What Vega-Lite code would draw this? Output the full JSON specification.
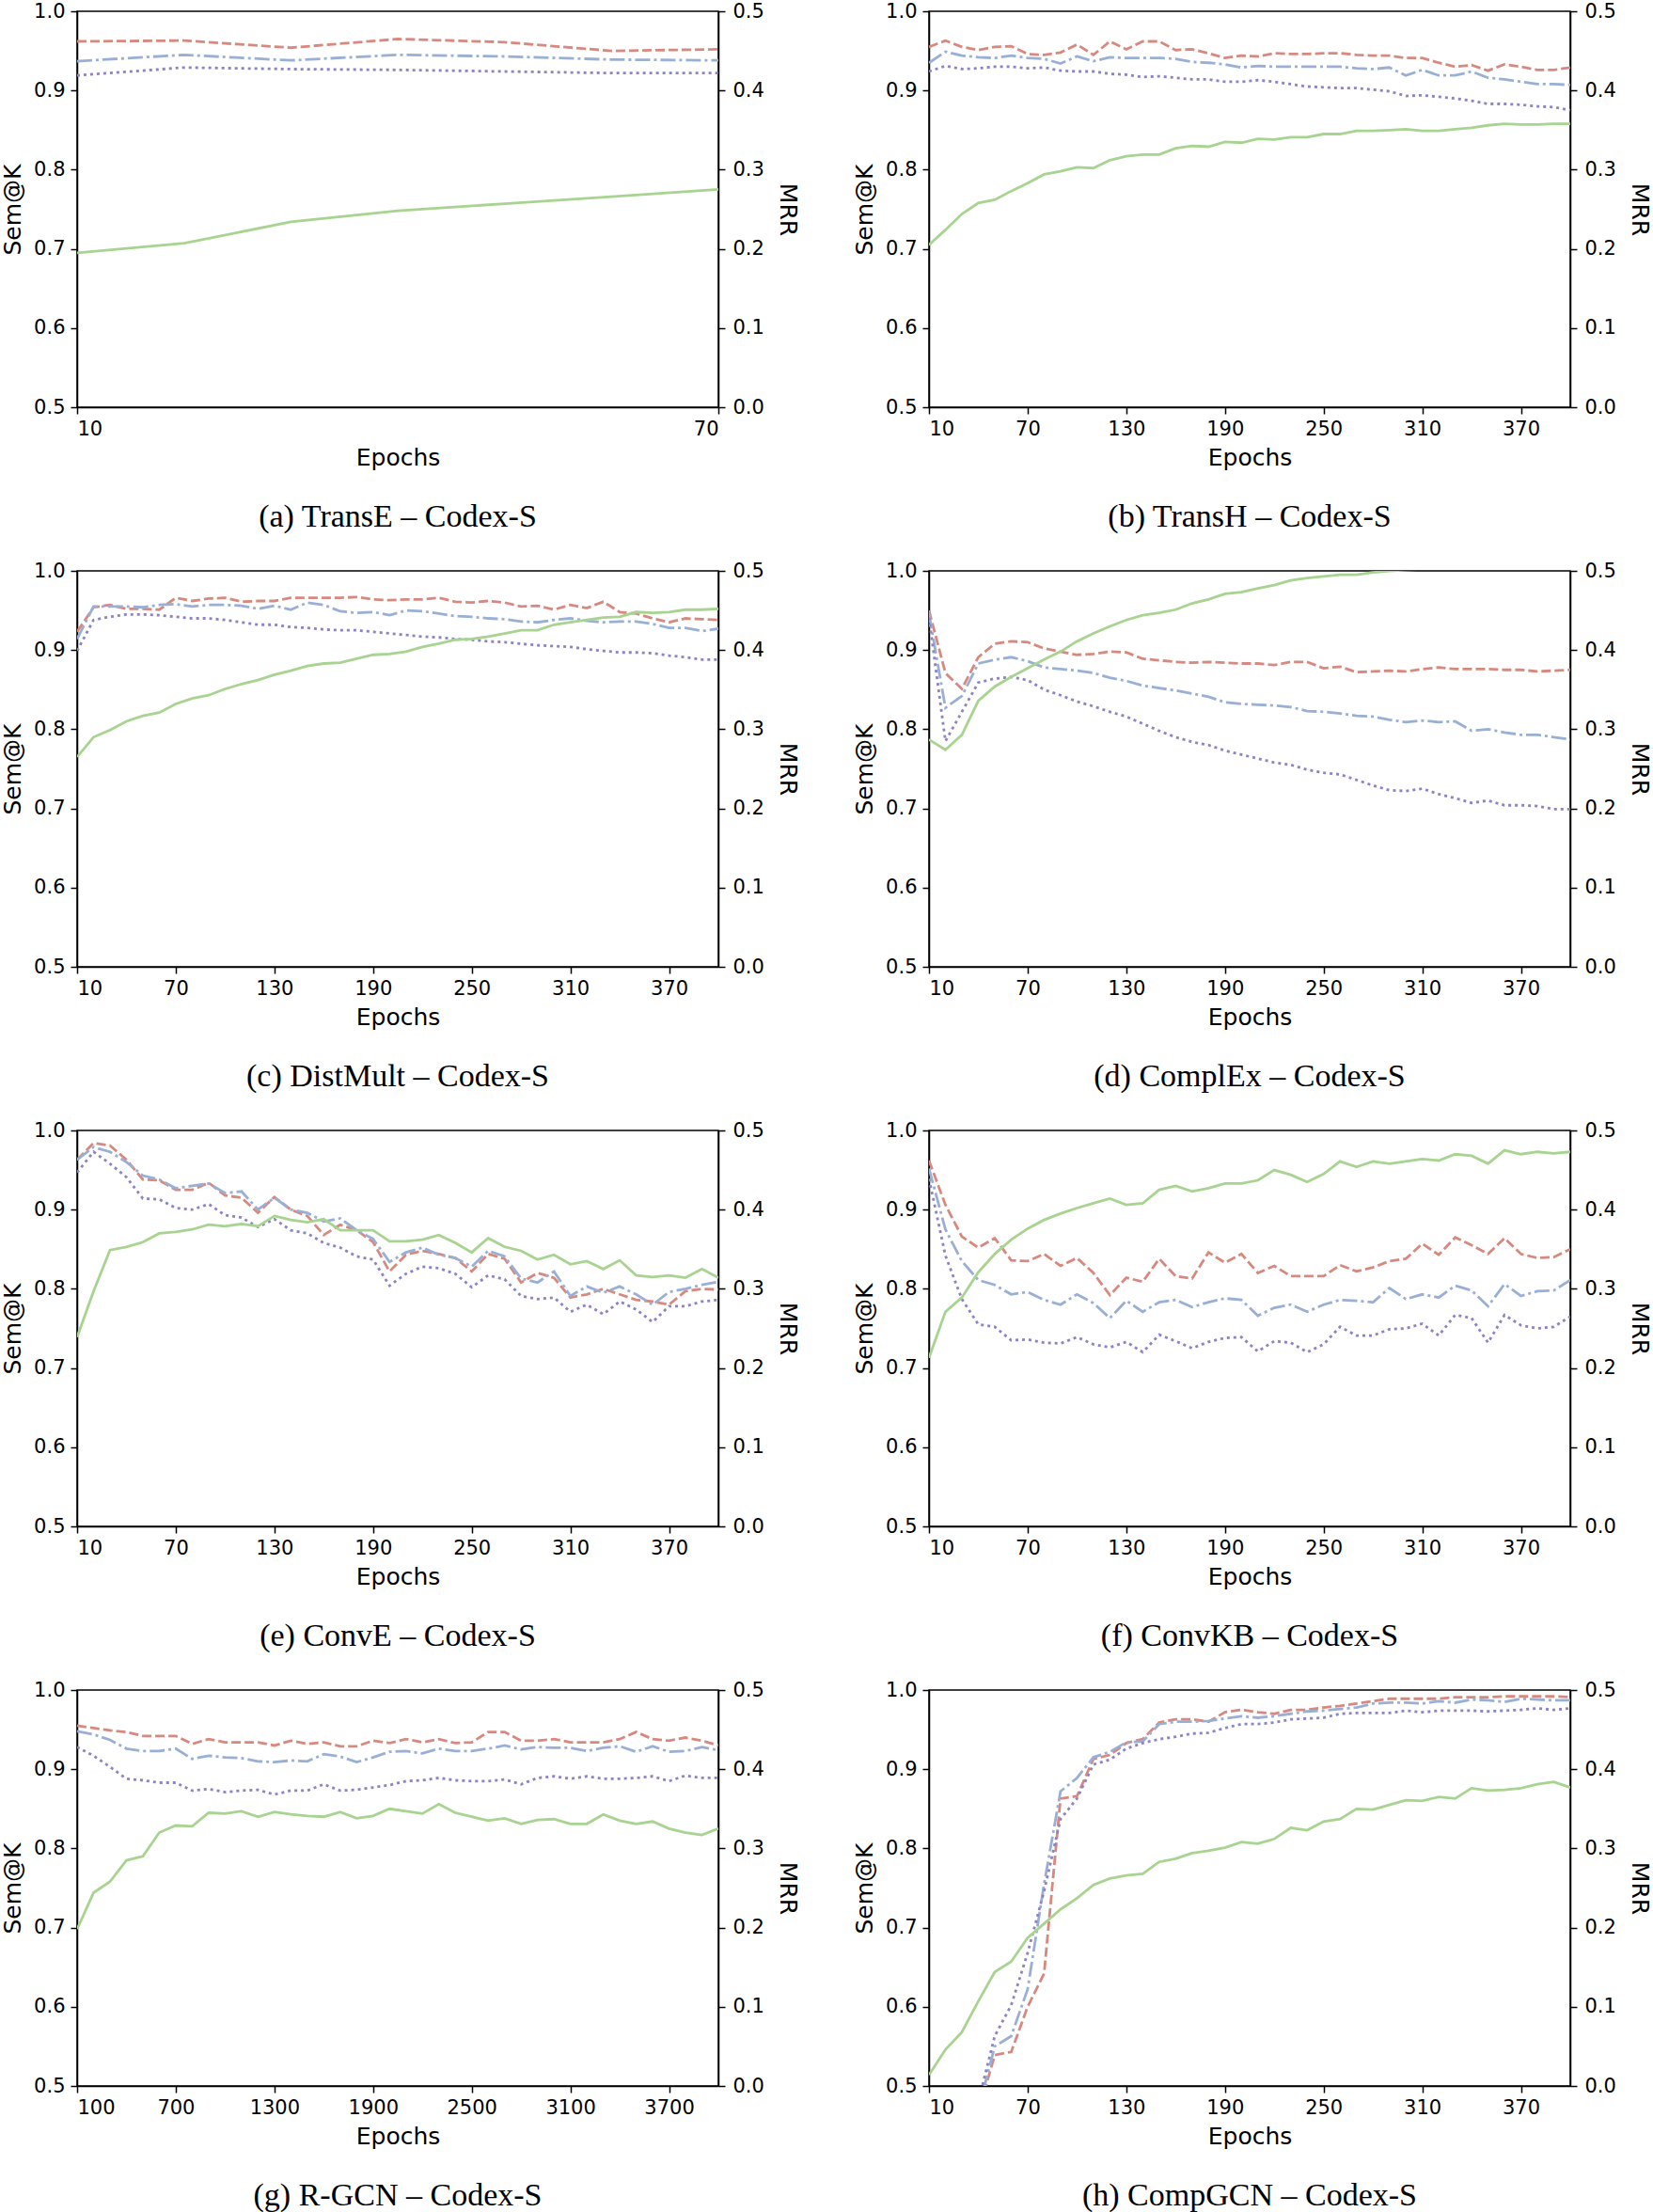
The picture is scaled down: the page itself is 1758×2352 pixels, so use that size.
{
"$schema":"https://vega.github.io/schema/vega-lite/v6.json",
"padding":{"left":0,"top":0,"right":0,"bottom":0},
"background":"white",
"config":{
 "view":{"stroke":"black","strokeWidth":1.5},
 "axis":{"labelFont":"DejaVu Sans","labelFontSize":21,"labelColor":"black","titleFont":"DejaVu Sans","titleFontSize":25,"titleFontWeight":"normal","titleColor":"black","tickColor":"black","tickSize":7,"tickWidth":1.5,"domainColor":"black","domainWidth":1.5,"grid":false,"labelPadding":8},
 "axisX":{"titlePadding":8,"format":"d","labelPadding":5},
 "axisLeft":{"titlePadding":9,"labelPadding":6},
 "axisRight":{"titlePadding":12},
 "title":{"font":"Liberation Serif","fontSize":34,"fontWeight":"normal","color":"black","orient":"bottom","offset":34,"anchor":"middle"},
 "line":{"strokeWidth":2.8}
},
"datasets":{
"a":[
{"epoch":10,"s1":0.962,"s3":0.937,"s10":0.919,"mrr":0.195},
{"epoch":20,"s1":0.963,"s3":0.945,"s10":0.929,"mrr":0.207},
{"epoch":30,"s1":0.954,"s3":0.938,"s10":0.927,"mrr":0.234},
{"epoch":40,"s1":0.965,"s3":0.945,"s10":0.926,"mrr":0.248},
{"epoch":50,"s1":0.961,"s3":0.943,"s10":0.924,"mrr":0.257},
{"epoch":60,"s1":0.950,"s3":0.939,"s10":0.922,"mrr":0.266},
{"epoch":70,"s1":0.952,"s3":0.938,"s10":0.922,"mrr":0.275}],
"b":[
{"epoch":10,"s1":0.955,"s3":0.935,"s10":0.924,"mrr":0.205},
{"epoch":20,"s1":0.963,"s3":0.949,"s10":0.931,"mrr":0.224},
{"epoch":30,"s1":0.955,"s3":0.944,"s10":0.927,"mrr":0.244},
{"epoch":40,"s1":0.951,"s3":0.942,"s10":0.928,"mrr":0.258},
{"epoch":50,"s1":0.955,"s3":0.941,"s10":0.930,"mrr":0.262},
{"epoch":60,"s1":0.956,"s3":0.944,"s10":0.930,"mrr":0.273},
{"epoch":70,"s1":0.946,"s3":0.941,"s10":0.928,"mrr":0.283},
{"epoch":80,"s1":0.945,"s3":0.940,"s10":0.929,"mrr":0.294},
{"epoch":90,"s1":0.948,"s3":0.934,"s10":0.925,"mrr":0.298},
{"epoch":100,"s1":0.958,"s3":0.943,"s10":0.924,"mrr":0.303},
{"epoch":110,"s1":0.945,"s3":0.937,"s10":0.924,"mrr":0.302},
{"epoch":120,"s1":0.962,"s3":0.942,"s10":0.921,"mrr":0.312},
{"epoch":130,"s1":0.952,"s3":0.941,"s10":0.920,"mrr":0.317},
{"epoch":140,"s1":0.962,"s3":0.941,"s10":0.917,"mrr":0.319},
{"epoch":150,"s1":0.962,"s3":0.941,"s10":0.918,"mrr":0.319},
{"epoch":160,"s1":0.951,"s3":0.940,"s10":0.916,"mrr":0.327},
{"epoch":170,"s1":0.952,"s3":0.936,"s10":0.914,"mrr":0.330},
{"epoch":180,"s1":0.947,"s3":0.935,"s10":0.914,"mrr":0.329},
{"epoch":190,"s1":0.941,"s3":0.933,"s10":0.911,"mrr":0.335},
{"epoch":200,"s1":0.944,"s3":0.929,"s10":0.911,"mrr":0.334},
{"epoch":210,"s1":0.943,"s3":0.931,"s10":0.913,"mrr":0.339},
{"epoch":220,"s1":0.947,"s3":0.930,"s10":0.911,"mrr":0.338},
{"epoch":230,"s1":0.946,"s3":0.930,"s10":0.908,"mrr":0.341},
{"epoch":240,"s1":0.946,"s3":0.930,"s10":0.905,"mrr":0.341},
{"epoch":250,"s1":0.947,"s3":0.930,"s10":0.904,"mrr":0.345},
{"epoch":260,"s1":0.947,"s3":0.930,"s10":0.903,"mrr":0.345},
{"epoch":270,"s1":0.945,"s3":0.928,"s10":0.903,"mrr":0.349},
{"epoch":280,"s1":0.944,"s3":0.927,"s10":0.901,"mrr":0.349},
{"epoch":290,"s1":0.944,"s3":0.929,"s10":0.899,"mrr":0.350},
{"epoch":300,"s1":0.941,"s3":0.919,"s10":0.893,"mrr":0.351},
{"epoch":310,"s1":0.941,"s3":0.926,"s10":0.894,"mrr":0.349},
{"epoch":320,"s1":0.935,"s3":0.919,"s10":0.892,"mrr":0.349},
{"epoch":330,"s1":0.930,"s3":0.919,"s10":0.890,"mrr":0.351},
{"epoch":340,"s1":0.932,"s3":0.924,"s10":0.887,"mrr":0.353},
{"epoch":350,"s1":0.925,"s3":0.916,"s10":0.883,"mrr":0.356},
{"epoch":360,"s1":0.933,"s3":0.914,"s10":0.883,"mrr":0.358},
{"epoch":370,"s1":0.930,"s3":0.911,"s10":0.882,"mrr":0.357},
{"epoch":380,"s1":0.926,"s3":0.908,"s10":0.880,"mrr":0.357},
{"epoch":390,"s1":0.926,"s3":0.908,"s10":0.879,"mrr":0.358},
{"epoch":400,"s1":0.929,"s3":0.907,"s10":0.875,"mrr":0.358}],
"c":[
{"epoch":10,"s1":0.923,"s3":0.914,"s10":0.899,"mrr":0.265},
{"epoch":20,"s1":0.954,"s3":0.955,"s10":0.938,"mrr":0.290},
{"epoch":30,"s1":0.957,"s3":0.955,"s10":0.942,"mrr":0.299},
{"epoch":40,"s1":0.952,"s3":0.955,"s10":0.945,"mrr":0.310},
{"epoch":50,"s1":0.952,"s3":0.954,"s10":0.945,"mrr":0.317},
{"epoch":60,"s1":0.951,"s3":0.957,"s10":0.944,"mrr":0.321},
{"epoch":70,"s1":0.966,"s3":0.958,"s10":0.942,"mrr":0.332},
{"epoch":80,"s1":0.962,"s3":0.955,"s10":0.940,"mrr":0.339},
{"epoch":90,"s1":0.965,"s3":0.957,"s10":0.940,"mrr":0.343},
{"epoch":100,"s1":0.966,"s3":0.957,"s10":0.938,"mrr":0.351},
{"epoch":110,"s1":0.961,"s3":0.956,"s10":0.935,"mrr":0.357},
{"epoch":120,"s1":0.962,"s3":0.952,"s10":0.932,"mrr":0.362},
{"epoch":130,"s1":0.962,"s3":0.956,"s10":0.932,"mrr":0.369},
{"epoch":140,"s1":0.966,"s3":0.951,"s10":0.929,"mrr":0.374},
{"epoch":150,"s1":0.966,"s3":0.960,"s10":0.928,"mrr":0.380},
{"epoch":160,"s1":0.966,"s3":0.957,"s10":0.926,"mrr":0.383},
{"epoch":170,"s1":0.966,"s3":0.949,"s10":0.925,"mrr":0.384},
{"epoch":180,"s1":0.967,"s3":0.947,"s10":0.925,"mrr":0.389},
{"epoch":190,"s1":0.964,"s3":0.948,"s10":0.923,"mrr":0.394},
{"epoch":200,"s1":0.963,"s3":0.944,"s10":0.921,"mrr":0.395},
{"epoch":210,"s1":0.964,"s3":0.950,"s10":0.919,"mrr":0.398},
{"epoch":220,"s1":0.964,"s3":0.949,"s10":0.917,"mrr":0.404},
{"epoch":230,"s1":0.966,"s3":0.946,"s10":0.916,"mrr":0.408},
{"epoch":240,"s1":0.961,"s3":0.943,"s10":0.914,"mrr":0.413},
{"epoch":250,"s1":0.960,"s3":0.942,"s10":0.913,"mrr":0.414},
{"epoch":260,"s1":0.962,"s3":0.940,"s10":0.911,"mrr":0.417},
{"epoch":270,"s1":0.960,"s3":0.939,"s10":0.910,"mrr":0.421},
{"epoch":280,"s1":0.955,"s3":0.936,"s10":0.908,"mrr":0.425},
{"epoch":290,"s1":0.956,"s3":0.935,"s10":0.906,"mrr":0.425},
{"epoch":300,"s1":0.951,"s3":0.938,"s10":0.905,"mrr":0.432},
{"epoch":310,"s1":0.957,"s3":0.940,"s10":0.904,"mrr":0.435},
{"epoch":320,"s1":0.953,"s3":0.937,"s10":0.901,"mrr":0.438},
{"epoch":330,"s1":0.961,"s3":0.935,"s10":0.899,"mrr":0.441},
{"epoch":340,"s1":0.948,"s3":0.936,"s10":0.897,"mrr":0.442},
{"epoch":350,"s1":0.946,"s3":0.936,"s10":0.897,"mrr":0.448},
{"epoch":360,"s1":0.940,"s3":0.933,"s10":0.896,"mrr":0.447},
{"epoch":370,"s1":0.935,"s3":0.928,"s10":0.893,"mrr":0.448},
{"epoch":380,"s1":0.940,"s3":0.928,"s10":0.891,"mrr":0.451},
{"epoch":390,"s1":0.939,"s3":0.924,"s10":0.888,"mrr":0.451},
{"epoch":400,"s1":0.938,"s3":0.927,"s10":0.888,"mrr":0.452}],
"d":[
{"epoch":10,"s1":0.950,"s3":0.946,"s10":0.941,"mrr":0.287},
{"epoch":20,"s1":0.871,"s3":0.827,"s10":0.785,"mrr":0.274},
{"epoch":30,"s1":0.851,"s3":0.842,"s10":0.822,"mrr":0.293},
{"epoch":40,"s1":0.891,"s3":0.883,"s10":0.859,"mrr":0.336},
{"epoch":50,"s1":0.908,"s3":0.888,"s10":0.864,"mrr":0.354},
{"epoch":60,"s1":0.911,"s3":0.891,"s10":0.866,"mrr":0.366},
{"epoch":70,"s1":0.910,"s3":0.886,"s10":0.862,"mrr":0.377},
{"epoch":80,"s1":0.902,"s3":0.878,"s10":0.850,"mrr":0.388},
{"epoch":90,"s1":0.898,"s3":0.876,"s10":0.843,"mrr":0.398},
{"epoch":100,"s1":0.894,"s3":0.874,"s10":0.835,"mrr":0.411},
{"epoch":110,"s1":0.895,"s3":0.871,"s10":0.829,"mrr":0.421},
{"epoch":120,"s1":0.898,"s3":0.865,"s10":0.822,"mrr":0.430},
{"epoch":130,"s1":0.897,"s3":0.861,"s10":0.816,"mrr":0.438},
{"epoch":140,"s1":0.889,"s3":0.855,"s10":0.807,"mrr":0.444},
{"epoch":150,"s1":0.887,"s3":0.852,"s10":0.798,"mrr":0.447},
{"epoch":160,"s1":0.885,"s3":0.849,"s10":0.790,"mrr":0.451},
{"epoch":170,"s1":0.884,"s3":0.845,"s10":0.784,"mrr":0.459},
{"epoch":180,"s1":0.885,"s3":0.841,"s10":0.780,"mrr":0.464},
{"epoch":190,"s1":0.884,"s3":0.834,"s10":0.773,"mrr":0.471},
{"epoch":200,"s1":0.883,"s3":0.832,"s10":0.768,"mrr":0.473},
{"epoch":210,"s1":0.883,"s3":0.831,"s10":0.763,"mrr":0.478},
{"epoch":220,"s1":0.881,"s3":0.830,"s10":0.758,"mrr":0.482},
{"epoch":230,"s1":0.885,"s3":0.828,"s10":0.755,"mrr":0.488},
{"epoch":240,"s1":0.885,"s3":0.823,"s10":0.749,"mrr":0.491},
{"epoch":250,"s1":0.877,"s3":0.822,"s10":0.745,"mrr":0.493},
{"epoch":260,"s1":0.879,"s3":0.820,"s10":0.743,"mrr":0.495},
{"epoch":270,"s1":0.872,"s3":0.817,"s10":0.736,"mrr":0.495},
{"epoch":280,"s1":0.873,"s3":0.816,"s10":0.729,"mrr":0.498},
{"epoch":290,"s1":0.874,"s3":0.812,"s10":0.723,"mrr":0.500},
{"epoch":300,"s1":0.873,"s3":0.809,"s10":0.722,"mrr":0.501},
{"epoch":310,"s1":0.876,"s3":0.811,"s10":0.725,"mrr":0.502},
{"epoch":320,"s1":0.878,"s3":0.809,"s10":0.718,"mrr":0.503},
{"epoch":330,"s1":0.876,"s3":0.810,"s10":0.713,"mrr":0.505},
{"epoch":340,"s1":0.876,"s3":0.798,"s10":0.707,"mrr":0.505},
{"epoch":350,"s1":0.876,"s3":0.800,"s10":0.710,"mrr":0.507},
{"epoch":360,"s1":0.875,"s3":0.796,"s10":0.704,"mrr":0.508},
{"epoch":370,"s1":0.875,"s3":0.793,"s10":0.704,"mrr":0.509},
{"epoch":380,"s1":0.873,"s3":0.793,"s10":0.703,"mrr":0.510},
{"epoch":390,"s1":0.874,"s3":0.790,"s10":0.699,"mrr":0.511},
{"epoch":400,"s1":0.875,"s3":0.787,"s10":0.699,"mrr":0.512}],
"e":[
{"epoch":10,"s1":0.963,"s3":0.963,"s10":0.947,"mrr":0.239},
{"epoch":20,"s1":0.984,"s3":0.979,"s10":0.973,"mrr":0.297},
{"epoch":30,"s1":0.981,"s3":0.973,"s10":0.958,"mrr":0.349},
{"epoch":40,"s1":0.963,"s3":0.960,"s10":0.941,"mrr":0.353},
{"epoch":50,"s1":0.938,"s3":0.943,"s10":0.914,"mrr":0.359},
{"epoch":60,"s1":0.937,"s3":0.938,"s10":0.913,"mrr":0.370},
{"epoch":70,"s1":0.925,"s3":0.927,"s10":0.902,"mrr":0.372},
{"epoch":80,"s1":0.925,"s3":0.930,"s10":0.900,"mrr":0.375},
{"epoch":90,"s1":0.934,"s3":0.933,"s10":0.907,"mrr":0.381},
{"epoch":100,"s1":0.918,"s3":0.921,"s10":0.893,"mrr":0.379},
{"epoch":110,"s1":0.915,"s3":0.923,"s10":0.890,"mrr":0.382},
{"epoch":120,"s1":0.896,"s3":0.900,"s10":0.878,"mrr":0.379},
{"epoch":130,"s1":0.916,"s3":0.915,"s10":0.888,"mrr":0.392},
{"epoch":140,"s1":0.900,"s3":0.900,"s10":0.874,"mrr":0.387},
{"epoch":150,"s1":0.892,"s3":0.896,"s10":0.870,"mrr":0.384},
{"epoch":160,"s1":0.868,"s3":0.885,"s10":0.858,"mrr":0.388},
{"epoch":170,"s1":0.881,"s3":0.889,"s10":0.852,"mrr":0.374},
{"epoch":180,"s1":0.874,"s3":0.874,"s10":0.841,"mrr":0.374},
{"epoch":190,"s1":0.859,"s3":0.863,"s10":0.837,"mrr":0.374},
{"epoch":200,"s1":0.822,"s3":0.834,"s10":0.804,"mrr":0.360},
{"epoch":210,"s1":0.843,"s3":0.846,"s10":0.819,"mrr":0.360},
{"epoch":220,"s1":0.848,"s3":0.852,"s10":0.828,"mrr":0.362},
{"epoch":230,"s1":0.844,"s3":0.843,"s10":0.826,"mrr":0.368},
{"epoch":240,"s1":0.839,"s3":0.839,"s10":0.819,"mrr":0.358},
{"epoch":250,"s1":0.822,"s3":0.828,"s10":0.802,"mrr":0.346},
{"epoch":260,"s1":0.844,"s3":0.848,"s10":0.817,"mrr":0.364},
{"epoch":270,"s1":0.838,"s3":0.841,"s10":0.812,"mrr":0.353},
{"epoch":280,"s1":0.808,"s3":0.813,"s10":0.791,"mrr":0.348},
{"epoch":290,"s1":0.820,"s3":0.808,"s10":0.787,"mrr":0.337},
{"epoch":300,"s1":0.814,"s3":0.822,"s10":0.789,"mrr":0.343},
{"epoch":310,"s1":0.789,"s3":0.791,"s10":0.771,"mrr":0.331},
{"epoch":320,"s1":0.793,"s3":0.803,"s10":0.780,"mrr":0.335},
{"epoch":330,"s1":0.800,"s3":0.795,"s10":0.768,"mrr":0.325},
{"epoch":340,"s1":0.793,"s3":0.803,"s10":0.784,"mrr":0.336},
{"epoch":350,"s1":0.786,"s3":0.793,"s10":0.774,"mrr":0.317},
{"epoch":360,"s1":0.784,"s3":0.780,"s10":0.758,"mrr":0.315},
{"epoch":370,"s1":0.780,"s3":0.796,"s10":0.778,"mrr":0.317},
{"epoch":380,"s1":0.797,"s3":0.800,"s10":0.778,"mrr":0.314},
{"epoch":390,"s1":0.800,"s3":0.805,"s10":0.784,"mrr":0.325},
{"epoch":400,"s1":0.799,"s3":0.809,"s10":0.786,"mrr":0.314}],
"f":[
{"epoch":10,"s1":0.962,"s3":0.952,"s10":0.939,"mrr":0.213},
{"epoch":20,"s1":0.906,"s3":0.875,"s10":0.842,"mrr":0.271},
{"epoch":30,"s1":0.866,"s3":0.835,"s10":0.787,"mrr":0.289},
{"epoch":40,"s1":0.852,"s3":0.811,"s10":0.755,"mrr":0.321},
{"epoch":50,"s1":0.864,"s3":0.805,"s10":0.752,"mrr":0.344},
{"epoch":60,"s1":0.836,"s3":0.793,"s10":0.735,"mrr":0.362},
{"epoch":70,"s1":0.835,"s3":0.796,"s10":0.736,"mrr":0.376},
{"epoch":80,"s1":0.844,"s3":0.786,"s10":0.732,"mrr":0.387},
{"epoch":90,"s1":0.829,"s3":0.780,"s10":0.731,"mrr":0.395},
{"epoch":100,"s1":0.839,"s3":0.793,"s10":0.739,"mrr":0.402},
{"epoch":110,"s1":0.820,"s3":0.782,"s10":0.730,"mrr":0.408},
{"epoch":120,"s1":0.792,"s3":0.763,"s10":0.726,"mrr":0.414},
{"epoch":130,"s1":0.814,"s3":0.785,"s10":0.733,"mrr":0.406},
{"epoch":140,"s1":0.809,"s3":0.771,"s10":0.720,"mrr":0.408},
{"epoch":150,"s1":0.838,"s3":0.783,"s10":0.742,"mrr":0.425},
{"epoch":160,"s1":0.816,"s3":0.786,"s10":0.734,"mrr":0.430},
{"epoch":170,"s1":0.813,"s3":0.777,"s10":0.725,"mrr":0.423},
{"epoch":180,"s1":0.846,"s3":0.783,"s10":0.733,"mrr":0.427},
{"epoch":190,"s1":0.833,"s3":0.788,"s10":0.738,"mrr":0.433},
{"epoch":200,"s1":0.844,"s3":0.786,"s10":0.739,"mrr":0.433},
{"epoch":210,"s1":0.820,"s3":0.766,"s10":0.721,"mrr":0.437},
{"epoch":220,"s1":0.829,"s3":0.776,"s10":0.734,"mrr":0.450},
{"epoch":230,"s1":0.816,"s3":0.780,"s10":0.732,"mrr":0.444},
{"epoch":240,"s1":0.816,"s3":0.771,"s10":0.720,"mrr":0.435},
{"epoch":250,"s1":0.816,"s3":0.780,"s10":0.730,"mrr":0.445},
{"epoch":260,"s1":0.830,"s3":0.786,"s10":0.752,"mrr":0.461},
{"epoch":270,"s1":0.822,"s3":0.785,"s10":0.741,"mrr":0.454},
{"epoch":280,"s1":0.827,"s3":0.783,"s10":0.741,"mrr":0.461},
{"epoch":290,"s1":0.835,"s3":0.801,"s10":0.749,"mrr":0.458},
{"epoch":300,"s1":0.838,"s3":0.787,"s10":0.750,"mrr":0.461},
{"epoch":310,"s1":0.857,"s3":0.793,"s10":0.756,"mrr":0.464},
{"epoch":320,"s1":0.843,"s3":0.789,"s10":0.741,"mrr":0.462},
{"epoch":330,"s1":0.865,"s3":0.804,"s10":0.767,"mrr":0.470},
{"epoch":340,"s1":0.855,"s3":0.798,"s10":0.763,"mrr":0.468},
{"epoch":350,"s1":0.844,"s3":0.778,"s10":0.732,"mrr":0.458},
{"epoch":360,"s1":0.864,"s3":0.806,"s10":0.767,"mrr":0.475},
{"epoch":370,"s1":0.844,"s3":0.791,"s10":0.754,"mrr":0.470},
{"epoch":380,"s1":0.839,"s3":0.797,"s10":0.750,"mrr":0.473},
{"epoch":390,"s1":0.840,"s3":0.798,"s10":0.752,"mrr":0.471},
{"epoch":400,"s1":0.850,"s3":0.811,"s10":0.765,"mrr":0.473}],
"g":[
{"epoch":100,"s1":0.955,"s3":0.948,"s10":0.928,"mrr":0.198},
{"epoch":200,"s1":0.952,"s3":0.944,"s10":0.917,"mrr":0.244},
{"epoch":300,"s1":0.949,"s3":0.937,"s10":0.903,"mrr":0.258},
{"epoch":400,"s1":0.947,"s3":0.926,"s10":0.888,"mrr":0.285},
{"epoch":500,"s1":0.942,"s3":0.923,"s10":0.886,"mrr":0.290},
{"epoch":600,"s1":0.942,"s3":0.923,"s10":0.883,"mrr":0.320},
{"epoch":700,"s1":0.942,"s3":0.926,"s10":0.883,"mrr":0.329},
{"epoch":800,"s1":0.932,"s3":0.913,"s10":0.873,"mrr":0.328},
{"epoch":900,"s1":0.938,"s3":0.917,"s10":0.875,"mrr":0.345},
{"epoch":1000,"s1":0.934,"s3":0.915,"s10":0.871,"mrr":0.344},
{"epoch":1100,"s1":0.934,"s3":0.914,"s10":0.873,"mrr":0.347},
{"epoch":1200,"s1":0.934,"s3":0.910,"s10":0.874,"mrr":0.340},
{"epoch":1300,"s1":0.930,"s3":0.909,"s10":0.868,"mrr":0.346},
{"epoch":1400,"s1":0.936,"s3":0.911,"s10":0.873,"mrr":0.343},
{"epoch":1500,"s1":0.932,"s3":0.910,"s10":0.873,"mrr":0.341},
{"epoch":1600,"s1":0.934,"s3":0.919,"s10":0.881,"mrr":0.340},
{"epoch":1700,"s1":0.929,"s3":0.916,"s10":0.873,"mrr":0.346},
{"epoch":1800,"s1":0.929,"s3":0.909,"s10":0.874,"mrr":0.338},
{"epoch":1900,"s1":0.936,"s3":0.915,"s10":0.877,"mrr":0.341},
{"epoch":2000,"s1":0.933,"s3":0.922,"s10":0.880,"mrr":0.350},
{"epoch":2100,"s1":0.938,"s3":0.923,"s10":0.885,"mrr":0.347},
{"epoch":2200,"s1":0.934,"s3":0.920,"s10":0.886,"mrr":0.344},
{"epoch":2300,"s1":0.938,"s3":0.926,"s10":0.889,"mrr":0.356},
{"epoch":2400,"s1":0.933,"s3":0.923,"s10":0.886,"mrr":0.345},
{"epoch":2500,"s1":0.934,"s3":0.923,"s10":0.885,"mrr":0.340},
{"epoch":2600,"s1":0.947,"s3":0.926,"s10":0.885,"mrr":0.335},
{"epoch":2700,"s1":0.947,"s3":0.930,"s10":0.887,"mrr":0.338},
{"epoch":2800,"s1":0.936,"s3":0.925,"s10":0.881,"mrr":0.331},
{"epoch":2900,"s1":0.936,"s3":0.928,"s10":0.889,"mrr":0.336},
{"epoch":3000,"s1":0.938,"s3":0.927,"s10":0.891,"mrr":0.337},
{"epoch":3100,"s1":0.934,"s3":0.927,"s10":0.888,"mrr":0.331},
{"epoch":3200,"s1":0.934,"s3":0.923,"s10":0.891,"mrr":0.331},
{"epoch":3300,"s1":0.934,"s3":0.927,"s10":0.888,"mrr":0.343},
{"epoch":3400,"s1":0.938,"s3":0.929,"s10":0.888,"mrr":0.335},
{"epoch":3500,"s1":0.947,"s3":0.922,"s10":0.889,"mrr":0.331},
{"epoch":3600,"s1":0.938,"s3":0.929,"s10":0.891,"mrr":0.334},
{"epoch":3700,"s1":0.936,"s3":0.922,"s10":0.885,"mrr":0.325},
{"epoch":3800,"s1":0.940,"s3":0.923,"s10":0.892,"mrr":0.320},
{"epoch":3900,"s1":0.936,"s3":0.928,"s10":0.889,"mrr":0.317},
{"epoch":4000,"s1":0.930,"s3":0.924,"s10":0.889,"mrr":0.325}],
"h":[
{"epoch":10,"s1":0.380,"s3":0.390,"s10":0.400,"mrr":0.014},
{"epoch":20,"s1":0.400,"s3":0.410,"s10":0.420,"mrr":0.046},
{"epoch":30,"s1":0.430,"s3":0.430,"s10":0.440,"mrr":0.068},
{"epoch":40,"s1":0.467,"s3":0.470,"s10":0.480,"mrr":0.107},
{"epoch":50,"s1":0.539,"s3":0.550,"s10":0.563,"mrr":0.144},
{"epoch":60,"s1":0.543,"s3":0.563,"s10":0.602,"mrr":0.157},
{"epoch":70,"s1":0.600,"s3":0.622,"s10":0.668,"mrr":0.187},
{"epoch":80,"s1":0.642,"s3":0.755,"s10":0.746,"mrr":0.205},
{"epoch":90,"s1":0.863,"s3":0.872,"s10":0.837,"mrr":0.223},
{"epoch":100,"s1":0.866,"s3":0.889,"s10":0.863,"mrr":0.237},
{"epoch":110,"s1":0.913,"s3":0.915,"s10":0.906,"mrr":0.254},
{"epoch":120,"s1":0.918,"s3":0.922,"s10":0.912,"mrr":0.262},
{"epoch":130,"s1":0.933,"s3":0.934,"s10":0.926,"mrr":0.266},
{"epoch":140,"s1":0.938,"s3":0.935,"s10":0.933,"mrr":0.268},
{"epoch":150,"s1":0.959,"s3":0.957,"s10":0.938,"mrr":0.283},
{"epoch":160,"s1":0.963,"s3":0.960,"s10":0.941,"mrr":0.287},
{"epoch":170,"s1":0.963,"s3":0.960,"s10":0.945,"mrr":0.294},
{"epoch":180,"s1":0.960,"s3":0.961,"s10":0.946,"mrr":0.297},
{"epoch":190,"s1":0.972,"s3":0.964,"s10":0.952,"mrr":0.301},
{"epoch":200,"s1":0.975,"s3":0.967,"s10":0.957,"mrr":0.308},
{"epoch":210,"s1":0.972,"s3":0.965,"s10":0.957,"mrr":0.306},
{"epoch":220,"s1":0.970,"s3":0.967,"s10":0.959,"mrr":0.312},
{"epoch":230,"s1":0.975,"s3":0.970,"s10":0.963,"mrr":0.326},
{"epoch":240,"s1":0.975,"s3":0.973,"s10":0.964,"mrr":0.323},
{"epoch":250,"s1":0.978,"s3":0.974,"s10":0.965,"mrr":0.334},
{"epoch":260,"s1":0.980,"s3":0.976,"s10":0.970,"mrr":0.337},
{"epoch":270,"s1":0.983,"s3":0.978,"s10":0.971,"mrr":0.350},
{"epoch":280,"s1":0.986,"s3":0.983,"s10":0.971,"mrr":0.349},
{"epoch":290,"s1":0.989,"s3":0.984,"s10":0.971,"mrr":0.355},
{"epoch":300,"s1":0.989,"s3":0.984,"s10":0.974,"mrr":0.361},
{"epoch":310,"s1":0.989,"s3":0.983,"s10":0.972,"mrr":0.360},
{"epoch":320,"s1":0.989,"s3":0.986,"s10":0.974,"mrr":0.365},
{"epoch":330,"s1":0.991,"s3":0.984,"s10":0.974,"mrr":0.363},
{"epoch":340,"s1":0.991,"s3":0.988,"s10":0.974,"mrr":0.376},
{"epoch":350,"s1":0.991,"s3":0.987,"s10":0.973,"mrr":0.373},
{"epoch":360,"s1":0.992,"s3":0.985,"s10":0.974,"mrr":0.374},
{"epoch":370,"s1":0.992,"s3":0.989,"s10":0.975,"mrr":0.376},
{"epoch":380,"s1":0.992,"s3":0.988,"s10":0.977,"mrr":0.381},
{"epoch":390,"s1":0.992,"s3":0.987,"s10":0.975,"mrr":0.384},
{"epoch":400,"s1":0.991,"s3":0.987,"s10":0.977,"mrr":0.377}]
},
"columns":2,
"spacing":{"row":174,"column":224},
"bounds":"flush",
"concat":[
{"data":{"name":"a"},"width":682,"height":421,"title":{"text":"(a) TransE – Codex-S"},
 "layer":[
  {"transform":[{"fold":["s1","s3","s10"],"as":["metric","value"]}],"mark":{"type":"line","clip":true},
   "encoding":{
    "x":{"field":"epoch","type":"quantitative","title":"Epochs","scale":{"domain":[10,70],"nice":false,"zero":false},"axis":{"values":[10,70]}},
    "y":{"field":"value","type":"quantitative","title":"Sem@K","scale":{"domain":[0.5,1.0],"nice":false,"zero":false},"axis":{"values":[0.5,0.6,0.7,0.8,0.9,1.0],"format":".1f"}},
    "color":{"field":"metric","type":"nominal","scale":{"domain":["s1","s3","s10"],"range":["#d8897f","#9aafd6","#8c84c4"]},"legend":null},
    "strokeDash":{"field":"metric","type":"nominal","scale":{"domain":["s1","s3","s10"],"range":[[10,4],[16,4,3,4],[3,4]]},"legend":null}}},
  {"mark":{"type":"line","color":"#a8d391","clip":true},
   "encoding":{
    "x":{"field":"epoch","type":"quantitative","title":"Epochs","scale":{"domain":[10,70],"nice":false,"zero":false},"axis":{"values":[10,70]}},
    "y":{"field":"mrr","type":"quantitative","title":"MRR","scale":{"domain":[0,0.5],"nice":false},"axis":{"orient":"right","values":[0,0.1,0.2,0.3,0.4,0.5],"format":".1f"}}}}
 ],
 "resolve":{"scale":{"y":"independent"}}},
{"data":{"name":"b"},"width":682,"height":421,"title":{"text":"(b) TransH – Codex-S"},
 "layer":[
  {"transform":[{"fold":["s1","s3","s10"],"as":["metric","value"]}],"mark":{"type":"line","clip":true},
   "encoding":{
    "x":{"field":"epoch","type":"quantitative","title":"Epochs","scale":{"domain":[10,400],"nice":false,"zero":false},"axis":{"values":[10,70,130,190,250,310,370]}},
    "y":{"field":"value","type":"quantitative","title":"Sem@K","scale":{"domain":[0.5,1.0],"nice":false,"zero":false},"axis":{"values":[0.5,0.6,0.7,0.8,0.9,1.0],"format":".1f"}},
    "color":{"field":"metric","type":"nominal","scale":{"domain":["s1","s3","s10"],"range":["#d8897f","#9aafd6","#8c84c4"]},"legend":null},
    "strokeDash":{"field":"metric","type":"nominal","scale":{"domain":["s1","s3","s10"],"range":[[10,4],[16,4,3,4],[3,4]]},"legend":null}}},
  {"mark":{"type":"line","color":"#a8d391","clip":true},
   "encoding":{
    "x":{"field":"epoch","type":"quantitative","title":"Epochs","scale":{"domain":[10,400],"nice":false,"zero":false},"axis":{"values":[10,70,130,190,250,310,370]}},
    "y":{"field":"mrr","type":"quantitative","title":"MRR","scale":{"domain":[0,0.5],"nice":false},"axis":{"orient":"right","values":[0,0.1,0.2,0.3,0.4,0.5],"format":".1f"}}}}
 ],
 "resolve":{"scale":{"y":"independent"}}},
{"data":{"name":"c"},"width":682,"height":421,"title":{"text":"(c) DistMult – Codex-S"},
 "layer":[
  {"transform":[{"fold":["s1","s3","s10"],"as":["metric","value"]}],"mark":{"type":"line","clip":true},
   "encoding":{
    "x":{"field":"epoch","type":"quantitative","title":"Epochs","scale":{"domain":[10,400],"nice":false,"zero":false},"axis":{"values":[10,70,130,190,250,310,370]}},
    "y":{"field":"value","type":"quantitative","title":"Sem@K","scale":{"domain":[0.5,1.0],"nice":false,"zero":false},"axis":{"values":[0.5,0.6,0.7,0.8,0.9,1.0],"format":".1f"}},
    "color":{"field":"metric","type":"nominal","scale":{"domain":["s1","s3","s10"],"range":["#d8897f","#9aafd6","#8c84c4"]},"legend":null},
    "strokeDash":{"field":"metric","type":"nominal","scale":{"domain":["s1","s3","s10"],"range":[[10,4],[16,4,3,4],[3,4]]},"legend":null}}},
  {"mark":{"type":"line","color":"#a8d391","clip":true},
   "encoding":{
    "x":{"field":"epoch","type":"quantitative","title":"Epochs","scale":{"domain":[10,400],"nice":false,"zero":false},"axis":{"values":[10,70,130,190,250,310,370]}},
    "y":{"field":"mrr","type":"quantitative","title":"MRR","scale":{"domain":[0,0.5],"nice":false},"axis":{"orient":"right","values":[0,0.1,0.2,0.3,0.4,0.5],"format":".1f"}}}}
 ],
 "resolve":{"scale":{"y":"independent"}}},
{"data":{"name":"d"},"width":682,"height":421,"title":{"text":"(d) ComplEx – Codex-S"},
 "layer":[
  {"transform":[{"fold":["s1","s3","s10"],"as":["metric","value"]}],"mark":{"type":"line","clip":true},
   "encoding":{
    "x":{"field":"epoch","type":"quantitative","title":"Epochs","scale":{"domain":[10,400],"nice":false,"zero":false},"axis":{"values":[10,70,130,190,250,310,370]}},
    "y":{"field":"value","type":"quantitative","title":"Sem@K","scale":{"domain":[0.5,1.0],"nice":false,"zero":false},"axis":{"values":[0.5,0.6,0.7,0.8,0.9,1.0],"format":".1f"}},
    "color":{"field":"metric","type":"nominal","scale":{"domain":["s1","s3","s10"],"range":["#d8897f","#9aafd6","#8c84c4"]},"legend":null},
    "strokeDash":{"field":"metric","type":"nominal","scale":{"domain":["s1","s3","s10"],"range":[[10,4],[16,4,3,4],[3,4]]},"legend":null}}},
  {"mark":{"type":"line","color":"#a8d391","clip":true},
   "encoding":{
    "x":{"field":"epoch","type":"quantitative","title":"Epochs","scale":{"domain":[10,400],"nice":false,"zero":false},"axis":{"values":[10,70,130,190,250,310,370]}},
    "y":{"field":"mrr","type":"quantitative","title":"MRR","scale":{"domain":[0,0.5],"nice":false},"axis":{"orient":"right","values":[0,0.1,0.2,0.3,0.4,0.5],"format":".1f"}}}}
 ],
 "resolve":{"scale":{"y":"independent"}}},
{"data":{"name":"e"},"width":682,"height":421,"title":{"text":"(e) ConvE – Codex-S"},
 "layer":[
  {"transform":[{"fold":["s1","s3","s10"],"as":["metric","value"]}],"mark":{"type":"line","clip":true},
   "encoding":{
    "x":{"field":"epoch","type":"quantitative","title":"Epochs","scale":{"domain":[10,400],"nice":false,"zero":false},"axis":{"values":[10,70,130,190,250,310,370]}},
    "y":{"field":"value","type":"quantitative","title":"Sem@K","scale":{"domain":[0.5,1.0],"nice":false,"zero":false},"axis":{"values":[0.5,0.6,0.7,0.8,0.9,1.0],"format":".1f"}},
    "color":{"field":"metric","type":"nominal","scale":{"domain":["s1","s3","s10"],"range":["#d8897f","#9aafd6","#8c84c4"]},"legend":null},
    "strokeDash":{"field":"metric","type":"nominal","scale":{"domain":["s1","s3","s10"],"range":[[10,4],[16,4,3,4],[3,4]]},"legend":null}}},
  {"mark":{"type":"line","color":"#a8d391","clip":true},
   "encoding":{
    "x":{"field":"epoch","type":"quantitative","title":"Epochs","scale":{"domain":[10,400],"nice":false,"zero":false},"axis":{"values":[10,70,130,190,250,310,370]}},
    "y":{"field":"mrr","type":"quantitative","title":"MRR","scale":{"domain":[0,0.5],"nice":false},"axis":{"orient":"right","values":[0,0.1,0.2,0.3,0.4,0.5],"format":".1f"}}}}
 ],
 "resolve":{"scale":{"y":"independent"}}},
{"data":{"name":"f"},"width":682,"height":421,"title":{"text":"(f) ConvKB – Codex-S"},
 "layer":[
  {"transform":[{"fold":["s1","s3","s10"],"as":["metric","value"]}],"mark":{"type":"line","clip":true},
   "encoding":{
    "x":{"field":"epoch","type":"quantitative","title":"Epochs","scale":{"domain":[10,400],"nice":false,"zero":false},"axis":{"values":[10,70,130,190,250,310,370]}},
    "y":{"field":"value","type":"quantitative","title":"Sem@K","scale":{"domain":[0.5,1.0],"nice":false,"zero":false},"axis":{"values":[0.5,0.6,0.7,0.8,0.9,1.0],"format":".1f"}},
    "color":{"field":"metric","type":"nominal","scale":{"domain":["s1","s3","s10"],"range":["#d8897f","#9aafd6","#8c84c4"]},"legend":null},
    "strokeDash":{"field":"metric","type":"nominal","scale":{"domain":["s1","s3","s10"],"range":[[10,4],[16,4,3,4],[3,4]]},"legend":null}}},
  {"mark":{"type":"line","color":"#a8d391","clip":true},
   "encoding":{
    "x":{"field":"epoch","type":"quantitative","title":"Epochs","scale":{"domain":[10,400],"nice":false,"zero":false},"axis":{"values":[10,70,130,190,250,310,370]}},
    "y":{"field":"mrr","type":"quantitative","title":"MRR","scale":{"domain":[0,0.5],"nice":false},"axis":{"orient":"right","values":[0,0.1,0.2,0.3,0.4,0.5],"format":".1f"}}}}
 ],
 "resolve":{"scale":{"y":"independent"}}},
{"data":{"name":"g"},"width":682,"height":421,"title":{"text":"(g) R-GCN – Codex-S"},
 "layer":[
  {"transform":[{"fold":["s1","s3","s10"],"as":["metric","value"]}],"mark":{"type":"line","clip":true},
   "encoding":{
    "x":{"field":"epoch","type":"quantitative","title":"Epochs","scale":{"domain":[100,4000],"nice":false,"zero":false},"axis":{"values":[100,700,1300,1900,2500,3100,3700]}},
    "y":{"field":"value","type":"quantitative","title":"Sem@K","scale":{"domain":[0.5,1.0],"nice":false,"zero":false},"axis":{"values":[0.5,0.6,0.7,0.8,0.9,1.0],"format":".1f"}},
    "color":{"field":"metric","type":"nominal","scale":{"domain":["s1","s3","s10"],"range":["#d8897f","#9aafd6","#8c84c4"]},"legend":null},
    "strokeDash":{"field":"metric","type":"nominal","scale":{"domain":["s1","s3","s10"],"range":[[10,4],[16,4,3,4],[3,4]]},"legend":null}}},
  {"mark":{"type":"line","color":"#a8d391","clip":true},
   "encoding":{
    "x":{"field":"epoch","type":"quantitative","title":"Epochs","scale":{"domain":[100,4000],"nice":false,"zero":false},"axis":{"values":[100,700,1300,1900,2500,3100,3700]}},
    "y":{"field":"mrr","type":"quantitative","title":"MRR","scale":{"domain":[0,0.5],"nice":false},"axis":{"orient":"right","values":[0,0.1,0.2,0.3,0.4,0.5],"format":".1f"}}}}
 ],
 "resolve":{"scale":{"y":"independent"}}},
{"data":{"name":"h"},"width":682,"height":421,"title":{"text":"(h) CompGCN – Codex-S"},
 "layer":[
  {"transform":[{"fold":["s1","s3","s10"],"as":["metric","value"]}],"mark":{"type":"line","clip":true},
   "encoding":{
    "x":{"field":"epoch","type":"quantitative","title":"Epochs","scale":{"domain":[10,400],"nice":false,"zero":false},"axis":{"values":[10,70,130,190,250,310,370]}},
    "y":{"field":"value","type":"quantitative","title":"Sem@K","scale":{"domain":[0.5,1.0],"nice":false,"zero":false},"axis":{"values":[0.5,0.6,0.7,0.8,0.9,1.0],"format":".1f"}},
    "color":{"field":"metric","type":"nominal","scale":{"domain":["s1","s3","s10"],"range":["#d8897f","#9aafd6","#8c84c4"]},"legend":null},
    "strokeDash":{"field":"metric","type":"nominal","scale":{"domain":["s1","s3","s10"],"range":[[10,4],[16,4,3,4],[3,4]]},"legend":null}}},
  {"mark":{"type":"line","color":"#a8d391","clip":true},
   "encoding":{
    "x":{"field":"epoch","type":"quantitative","title":"Epochs","scale":{"domain":[10,400],"nice":false,"zero":false},"axis":{"values":[10,70,130,190,250,310,370]}},
    "y":{"field":"mrr","type":"quantitative","title":"MRR","scale":{"domain":[0,0.5],"nice":false},"axis":{"orient":"right","values":[0,0.1,0.2,0.3,0.4,0.5],"format":".1f"}}}}
 ],
 "resolve":{"scale":{"y":"independent"}}}
]
}
